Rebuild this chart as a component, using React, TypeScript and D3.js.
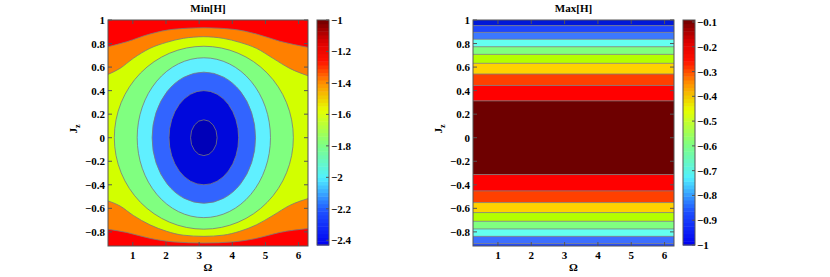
import React from "react";
import * as d3 from "d3";

const W = 830;
const H = 277;

// axes
const omegaDomain = [0.2513, 6.2832];
const jzDomain = [-0.92, 1];
const omegaTicks = [1, 2, 3, 4, 5, 6];
const jzTicks = [-0.8, -0.6, -0.4, -0.2, 0, 0.2, 0.4, 0.6, 0.8, 1];

// Min[H]: open contours at top and bottom, points [Ω, Jz]
const minH12Top = [
  [0.251, 0.773], [0.815, 0.815], [1.516, 0.881], [2.218, 0.921], [3.14, 0.934],
  [4.025, 0.921], [4.73, 0.881], [5.43, 0.82], [6.283, 0.768],
];
const minH14Top = [
  [0.251, 0.538], [0.613, 0.589], [1.013, 0.674], [1.516, 0.759], [2.018, 0.81],
  [2.52, 0.844], [3.14, 0.858], [3.724, 0.844], [4.227, 0.81], [4.729, 0.759],
  [5.23, 0.674], [5.733, 0.589], [6.283, 0.526],
];
const minH14Bottom = [
  [0.251, -0.537], [0.613, -0.58], [1.013, -0.66], [1.516, -0.74], [2.018, -0.795],
  [2.52, -0.828], [3.14, -0.838], [3.724, -0.828], [4.227, -0.795], [4.729, -0.74],
  [5.23, -0.66], [5.733, -0.575], [6.283, -0.517],
];
const minH12Bottom = [
  [0.251, -0.778], [0.815, -0.805], [1.516, -0.855], [2.218, -0.885], [3.14, -0.895],
  [4.025, -0.885], [4.73, -0.855], [5.43, -0.805], [6.283, -0.772],
];

// Min[H]: closed contours around (π, 0): level, half width in Ω, half height in Jz
const minLevels = [-1.6, -1.8, -2.0, -2.2, -2.4];
const minHalfOmega = [2.7, 2.01, 1.56, 1.05, 0.4];
const minHalfJz = [0.777, 0.679, 0.557, 0.4, 0.152];

// Max[H]: band edges in Jz, top to bottom
const maxEdges = [
  1, 0.952, 0.895, 0.836, 0.773, 0.708, 0.632, 0.541, 0.444, 0.313,
  -0.313, -0.452, -0.551, -0.636, -0.71, -0.775, -0.838, -0.9, -0.92,
];

// colour bars
const minBarDomain = [-2.43, -1.0];
const maxBarDomain = [-1.0, -0.092];
const minBarTicks = [-1, -1.2, -1.4, -1.6, -1.8, -2, -2.2, -2.4];
const maxBarTicks = [-0.1, -0.2, -0.3, -0.4, -0.5, -0.6, -0.7, -0.8, -0.9, -1];

// styles
const minOuterColors = { yellow: "#d2ff00", orange: "#ff8000", red: "#ff0000" };
const minInnerColors = ["#80ff80", "#60f0ff", "#3264ff", "#0008dc", "#0000b8"];
const maxBandColors = [
  "#0018d8", "#1e46ff", "#3c78ff", "#64fff0", "#80ff80", "#b4ff00", "#ffd200",
  "#ff4000", "#ff0000", "#6e0000", "#ff0000", "#ff4000", "#ffd200", "#b4ff00",
  "#80ff80", "#64fff0", "#3c6eff", "#1e46ff",
];
const barStops = [0, 0.15, 0.3, 0.45, 0.6, 0.72, 0.82, 0.9, 1];
const barColors = [
  "#0000f0", "#1e50ff", "#50f0ff", "#80ff80", "#e6ff00", "#ff9000", "#ff1000",
  "#e00000", "#700000",
];

const FONT = "'Liberation Serif', 'DejaVu Serif', serif";
const LINE = "#7a7a7a";
const FRAME = "#555";
const fmt = d3.format("~g");

const TOP = 20;
const BOTTOM = 246;

function Frame({ x, y, title }) {
  const [x0, x1] = x.range();
  return (
    <g fontFamily={FONT} fontWeight="bold" fontSize={11}>
      <rect x={x0} y={TOP} width={x1 - x0} height={BOTTOM - TOP} fill="none" stroke={FRAME} />
      {omegaTicks.map((t) => (
        <g key={t}>
          <line x1={x(t)} x2={x(t)} y1={BOTTOM} y2={BOTTOM - 4} stroke={FRAME} />
          <line x1={x(t)} x2={x(t)} y1={TOP} y2={TOP + 4} stroke={FRAME} />
          <text x={x(t)} y={259} textAnchor="middle">{fmt(t)}</text>
        </g>
      ))}
      {jzTicks.map((t) => (
        <g key={t}>
          <line x1={x0} x2={x0 + 4} y1={y(t)} y2={y(t)} stroke={FRAME} />
          <line x1={x1} x2={x1 - 4} y1={y(t)} y2={y(t)} stroke={FRAME} />
          <text x={x0 - 3} y={y(t) + 4} textAnchor="end">{fmt(t)}</text>
        </g>
      ))}
      <text x={(x0 + x1) / 2} y={12} textAnchor="middle">{title}</text>
      <text x={(x0 + x1) / 2} y={271} textAnchor="middle">Ω</text>
      <text transform={`translate(${x0 - 31},${(TOP + BOTTOM) / 2 - 4}) rotate(-90)`} textAnchor="middle">
        <tspan>J</tspan>
        <tspan fontSize={8} dy={3}>z</tspan>
      </text>
    </g>
  );
}

function ColorBar({ x0, domain, ticks }) {
  const bw = 12;
  const y = d3.scaleLinear().domain(domain).range([245, TOP]);
  const color = d3
    .scaleLinear<string>()
    .domain(barStops.map((s) => domain[0] + s * (domain[1] - domain[0])))
    .range(barColors)
    .interpolate(d3.interpolateRgb);
  const steps = d3.range(0, 1, 1 / 60).map((s) => domain[0] + s * (domain[1] - domain[0]));
  const step = (domain[1] - domain[0]) / 60;
  return (
    <g fontFamily={FONT} fontWeight="bold" fontSize={11}>
      {steps.map((v, i) => (
        <rect key={i} x={x0} width={bw} y={y(v + step)} height={y(v) - y(v + step) + 0.5} fill={color(v + step / 2)} />
      ))}
      <rect x={x0} y={TOP} width={bw} height={245 - TOP} fill="none" stroke={FRAME} />
      {ticks.map((t) => (
        <g key={t}>
          <line x1={x0 + bw} x2={x0 + bw - 3} y1={y(t)} y2={y(t)} stroke={FRAME} />
          <text x={x0 + bw + 2} y={y(t) + 4}>{fmt(t)}</text>
        </g>
      ))}
    </g>
  );
}

function MinPanel() {
  const x = d3.scaleLinear().domain(omegaDomain).range([108, 308]);
  const y = d3.scaleLinear().domain(jzDomain).range([BOTTOM, TOP]);
  const topArea = d3.area<number[]>().x((d) => x(d[0])).y0(y(1)).y1((d) => y(d[1])).curve(d3.curveMonotoneX);
  const botArea = d3.area<number[]>().x((d) => x(d[0])).y0(y(-0.92)).y1((d) => y(d[1])).curve(d3.curveMonotoneX);
  const line = d3.line<number[]>().x((d) => x(d[0])).y((d) => y(d[1])).curve(d3.curveMonotoneX);
  const [x0, x1] = x.range();
  return (
    <g>
      <defs>
        <clipPath id="clipMin">
          <rect x={x0} y={TOP} width={x1 - x0} height={BOTTOM - TOP} />
        </clipPath>
      </defs>
      <g clipPath="url(#clipMin)">
        <rect x={x0} y={TOP} width={x1 - x0} height={BOTTOM - TOP} fill={minOuterColors.yellow} />
        <path d={topArea(minH14Top)} fill={minOuterColors.orange} />
        <path d={topArea(minH12Top)} fill={minOuterColors.red} />
        <path d={botArea(minH14Bottom)} fill={minOuterColors.orange} />
        <path d={botArea(minH12Bottom)} fill={minOuterColors.red} />
        {[minH14Top, minH12Top, minH14Bottom, minH12Bottom].map((c, i) => (
          <path key={i} d={line(c)} fill="none" stroke={LINE} strokeWidth={0.8} />
        ))}
        {minLevels.map((lv, i) => (
          <ellipse
            key={lv}
            cx={x(Math.PI)}
            cy={y(0)}
            rx={x(Math.PI + minHalfOmega[i]) - x(Math.PI)}
            ry={y(0) - y(minHalfJz[i])}
            fill={minInnerColors[i]}
            stroke={LINE}
            strokeWidth={0.8}
          />
        ))}
      </g>
      <Frame x={x} y={y} title="Min[H]" />
    </g>
  );
}

function MaxPanel() {
  const x = d3.scaleLinear().domain(omegaDomain).range([473, 674]);
  const y = d3.scaleLinear().domain(jzDomain).range([BOTTOM, TOP]);
  const [x0, x1] = x.range();
  return (
    <g>
      {maxEdges.slice(0, -1).map((e, i) => (
        <rect key={i} x={x0} width={x1 - x0} y={y(e)} height={y(maxEdges[i + 1]) - y(e)} fill={maxBandColors[i]} />
      ))}
      {maxEdges.slice(1, -1).map((e, i) => (
        <line key={i} x1={x0} x2={x1} y1={y(e)} y2={y(e)} stroke={LINE} strokeWidth={0.8} />
      ))}
      <Frame x={x} y={y} title="Max[H]" />
    </g>
  );
}

export default function App() {
  return (
    <svg width={W} height={H} style={{ position: "absolute", left: 0, top: 0, background: "#fff" }}>
      <MinPanel />
      <ColorBar x0={317} domain={minBarDomain} ticks={minBarTicks} />
      <MaxPanel />
      <ColorBar x0={683} domain={maxBarDomain} ticks={maxBarTicks} />
    </svg>
  );
}
